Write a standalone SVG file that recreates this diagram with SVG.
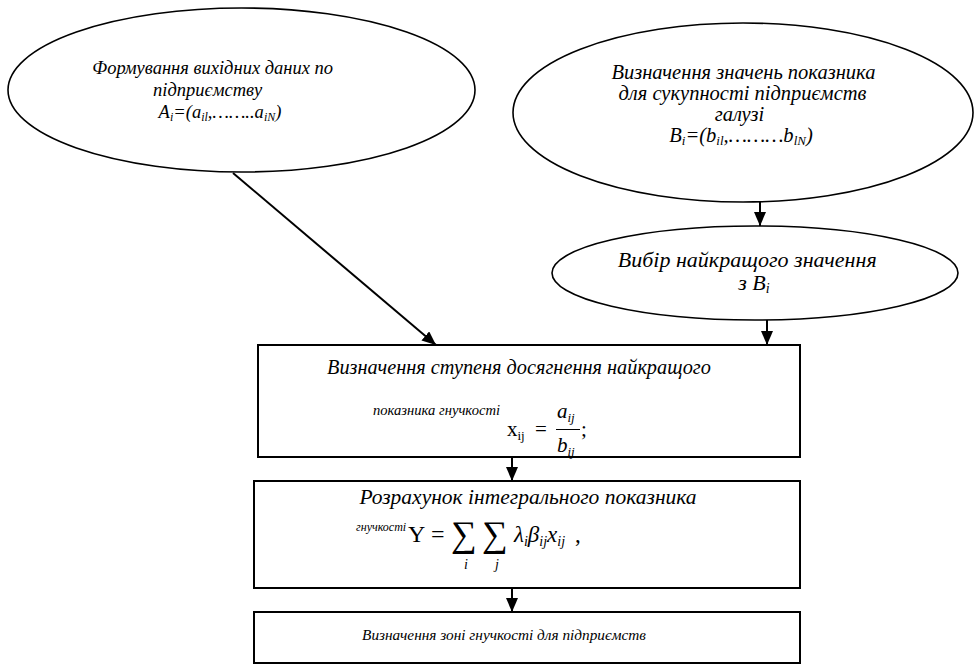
<svg xmlns="http://www.w3.org/2000/svg" width="974" height="666" viewBox="0 0 974 666">
<defs>
<style>
.sh{fill:#fff;stroke:#000;stroke-width:1.6}
.bx{fill:#fff;stroke:#000;stroke-width:2}
.t{font-family:"Liberation Serif","DejaVu Serif","Times New Roman",serif;font-style:italic;fill:#000}
.m{font-family:"Liberation Serif","Times New Roman",serif;fill:#000}
.mi{font-family:"Liberation Serif","Times New Roman",serif;font-style:italic;fill:#000}
.c{stroke:#000;stroke-width:2;fill:none}
</style>
<marker id="ah" markerUnits="userSpaceOnUse" markerWidth="14" markerHeight="12" refX="14" refY="6" orient="auto">
<path d="M0,0 L14,6 L0,12 z" fill="#000"/>
</marker>
</defs>
<rect width="974" height="666" fill="#fff"/>

<g id="connectors">
<line class="c" x1="233" y1="173" x2="436" y2="345" marker-end="url(#ah)"/>
<line class="c" x1="760" y1="202" x2="760" y2="226" marker-end="url(#ah)"/>
<line class="c" x1="767" y1="320" x2="767" y2="345" marker-end="url(#ah)"/>
<line class="c" x1="512" y1="458" x2="512" y2="481" marker-end="url(#ah)"/>
<line class="c" x1="512" y1="589" x2="512" y2="612" marker-end="url(#ah)"/>
</g>

<g id="node-source">
<ellipse class="sh" cx="241.5" cy="90" rx="233.5" ry="82"/>
<text class="t" font-size="18.5" text-anchor="middle">
<tspan x="215" y="74">Формування вихідних даних по</tspan>
<tspan x="210" y="96">підприємству</tspan>
<tspan x="220" y="118">A<tspan font-size="12" dy="3">i</tspan><tspan dy="-3">=(a</tspan><tspan font-size="12" dy="3">il</tspan><tspan dy="-3">,……..a</tspan><tspan font-size="12" dy="3">iN</tspan><tspan dy="-3">)</tspan></tspan>
</text>
</g>

<g id="node-industry">
<ellipse class="sh" cx="743" cy="112.5" rx="230" ry="89.5"/>
<text class="t" font-size="20.5" text-anchor="middle">
<tspan x="746" y="79">Визначення значень показника</tspan>
<tspan x="745" y="100">для сукупності підприємств</tspan>
<tspan x="742" y="121">галузі</tspan>
<tspan x="741" y="142">B<tspan font-size="13" dy="3">i</tspan><tspan dy="-3">=(b</tspan><tspan font-size="13" dy="3">il</tspan><tspan dy="-3">,………b</tspan><tspan font-size="13" dy="3">lN</tspan><tspan dy="-3">)</tspan></tspan>
</text>
</g>

<g id="node-best">
<ellipse class="sh" cx="755" cy="273" rx="203" ry="47"/>
<text class="t" font-size="22" text-anchor="middle">
<tspan x="750" y="267">Вибір найкращого значення</tspan>
<tspan x="754" y="290">з B<tspan font-size="14" dy="3">i</tspan></tspan>
</text>
</g>

<g id="node-degree">
<rect class="bx" x="258" y="345" width="542" height="112"/>
<text class="t" font-size="20.3" x="519" y="374" text-anchor="middle">Визначення ступеня досягнення найкращого</text>
<text class="t" font-size="14.6" x="373" y="415">показника гнучкості</text>
<text class="m" x="507" y="436" font-size="21">x<tspan font-size="13" dy="4">ij</tspan></text>
<text class="m" x="535" y="436" font-size="21">=</text>
<text class="mi" x="557" y="418" font-size="21">a<tspan font-size="13" dy="4">ij</tspan></text>
<line x1="556" y1="429.5" x2="580" y2="429.5" stroke="#000" stroke-width="1"/>
<text class="mi" x="557" y="452" font-size="21">b<tspan font-size="13" dy="4">ij</tspan></text>
<text class="m" x="581" y="436" font-size="21">;</text>
</g>

<g id="node-integral">
<rect class="bx" x="254" y="481" width="546" height="107"/>
<text class="t" font-size="21.5" x="528" y="504" text-anchor="middle">Розрахунок інтегрального показника</text>
<text class="t" font-size="12" x="356" y="531">гнучкості</text>
<text class="m" x="408" y="542" font-size="24">Y</text>
<text class="m" x="431" y="542" font-size="24">=</text>
<text class="m" x="451" y="546" font-size="36">∑</text>
<text class="m" x="482" y="546" font-size="36">∑</text>
<text class="mi" x="464" y="569" font-size="14">i</text>
<text class="mi" x="495" y="569" font-size="14">j</text>
<text class="mi" x="514" y="542" font-size="23">λ<tspan font-size="14" dy="4">i</tspan><tspan dy="-4">β</tspan><tspan font-size="14" dy="4">ij</tspan><tspan dy="-4">x</tspan><tspan font-size="14" dy="4">ij</tspan></text>
<text class="m" x="575" y="542" font-size="23">,</text>
</g>

<g id="node-zone">
<rect class="bx" x="254" y="612" width="546" height="51"/>
<text class="t" font-size="15.3" x="504" y="640" text-anchor="middle">Визначення зоні гнучкості для підприємств</text>
</g>
</svg>
